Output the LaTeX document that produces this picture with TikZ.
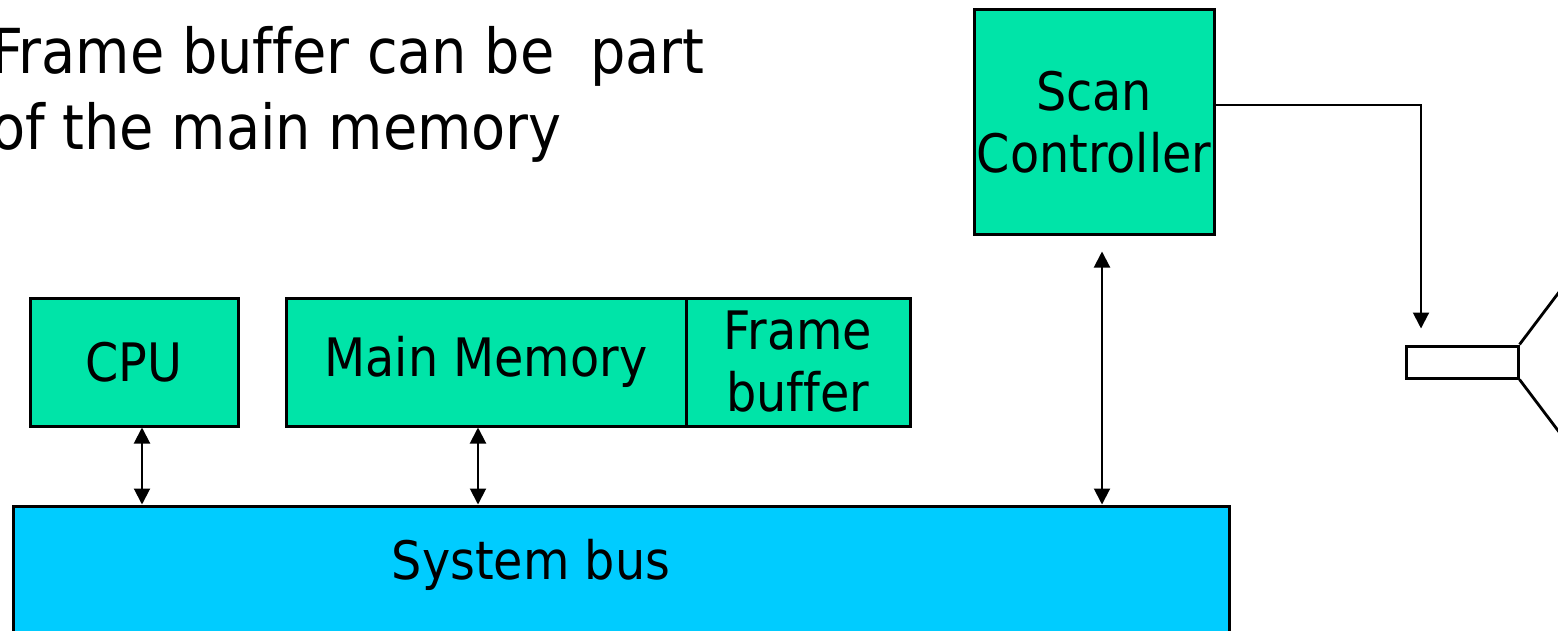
\documentclass[tikz,border=0pt]{standalone}
\usepackage{fontspec}
\setmainfont[Ligatures=NoCommon]{DejaVu Sans Condensed}
\usetikzlibrary{arrows.meta}
\definecolor{boxgreen}{RGB}{0,228,168}
\definecolor{busblue}{RGB}{0,204,255}
\newcommand{\Blocktext}{\fontsize{26.5}{31}\selectfont}

\begin{document}
\begin{tikzpicture}[x=0.5pt, y=-0.5pt,
    box/.style={draw, line width=1.5pt, fill=boxgreen, inner sep=0pt, align=center, font=\Blocktext},
    bidir/.style={line width=1pt, {Triangle[width=8pt,length=8pt]}-{Triangle[width=8pt,length=8pt]}},
    link/.style={line width=1pt, -{Triangle[width=8pt,length=8pt]}}]

    \useasboundingbox (0,0) rectangle (1558,631);

    \draw(-16,149) node[anchor=base west, align=left, font=\fontsize{31}{38}\selectfont] (title) {Frame buffer can be\ \ part\\of the main memory};

    \draw(134,362) node[box, minimum width=104pt, minimum height=64pt] (cpu) {CPU};
    \draw(486,362) node[box, minimum width=200pt, minimum height=64pt] (mem) {Main Memory};
    \draw(798,362) node[box, minimum width=112pt, minimum height=64pt] (fb) {Frame\\ buffer};
    \draw(1094,122) node[box, minimum width=120pt, minimum height=112pt] (scan) {Scan\\Controller};
    \draw(621,581) node[box, fill=busblue, minimum width=608pt, minimum height=75pt] (bus) {};
    \draw(531,565) node[font=\Blocktext] (bustext) {System bus};
    \draw(1462,362) node[draw, line width=1.5pt, fill=white, minimum width=56pt, minimum height=16pt, inner sep=0pt] (crt) {};

    \draw[bidir] ([xshift=4pt]cpu.south) -- ([xshift=4pt]cpu.south |- bus.north);
    \draw[bidir] ([xshift=-4pt]mem.south) -- ([xshift=-4pt]mem.south |- bus.north);
    \draw[bidir] ([xshift=4pt,yshift=-8pt]scan.south) -- ([xshift=4pt]scan.south |- bus.north);
    \draw[link] ([yshift=8.5pt]scan.east) -| ([xshift=-20.5pt,yshift=8pt]crt.north);

    \draw[line width=1.4pt] (crt.north east) -- ++(80,-106);
    \draw[line width=1.4pt] (crt.south east) -- ++(80,106);

\end{tikzpicture}
\end{document}
